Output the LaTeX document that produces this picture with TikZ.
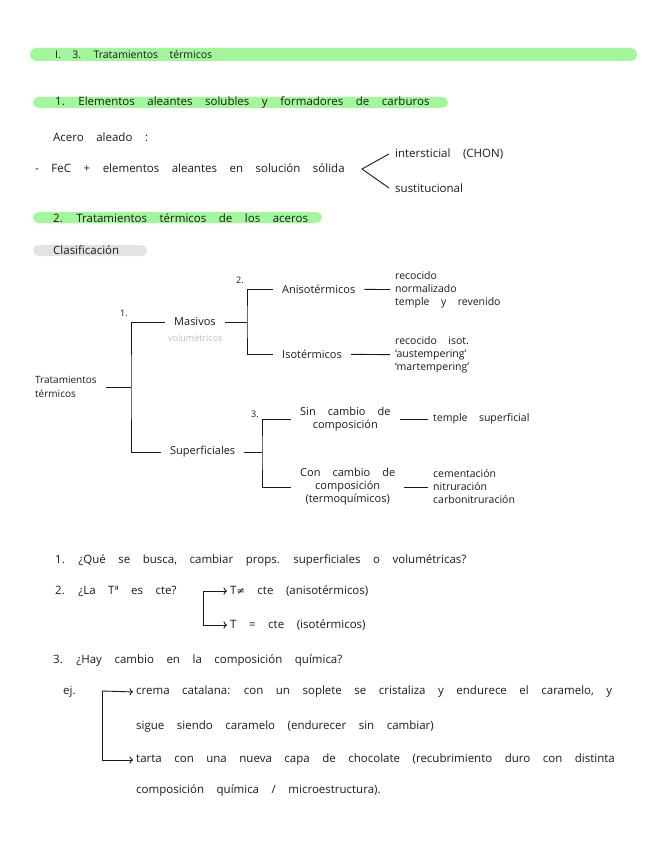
\documentclass[tikz,border=0pt]{standalone}
\usepackage{fontspec}
\setsansfont[WordSpace=4.2]{Open Sans}
\newfontfamily\symfont{DejaVu Sans}
\usetikzlibrary{arrows.meta, positioning}
\definecolor{hl}{HTML}{A3F79B}
\definecolor{hlgray}{HTML}{E3E3E3}
\definecolor{ink}{HTML}{1A1A1A}
\definecolor{soft}{HTML}{BDBDBD}

\begin{document}
\begin{tikzpicture}[x=1pt, y=-1pt, font=\sffamily\fontsize{11.5}{13}\selectfont,
    txt/.style={anchor=west, inner sep=0pt, text=ink},
    tn/.style={anchor=west, inner xsep=9pt, inner ysep=1pt, text=ink, align=center,
      font=\sffamily\fontsize{11}{13}\selectfont},
    lt/.style={anchor=west, inner xsep=5pt, inner ysep=1pt, text=ink, align=left,
      font=\sffamily\fontsize{10.5}{13}\selectfont},
    num/.style={text=ink, inner sep=0pt, font=\sffamily\fontsize{9}{10}\selectfont},
    ln/.style={draw=ink, line width=0.9pt},
    arr/.style={ln, -{To[length=3.5pt]}, shorten >=3pt}]
  \useasboundingbox (0,0) rectangle (656,848);

  \fill[hl, rounded corners=6.5pt] (30,48) rectangle (637,61);
  \fill[hl, rounded corners=5.5pt] (33,97) rectangle (448,108);
  \fill[hl, rounded corners=5.5pt] (33,212) rectangle (322,223);
  \fill[hlgray, rounded corners=5.5pt] (33,245) rectangle (147,256);

  \node[txt, font=\sffamily\fontsize{10.5}{13}\selectfont] (h0) at (55,55) {I. 3. Tratamientos térmicos};
  \node[txt] (h1) at (55,102) {1. Elementos aleantes solubles y formadores de carburos};
  \node[txt] (acero) at (53,137) {Acero aleado :};
  \node[txt] (fec) at (35,168) {- FeC + elementos aleantes en solución sólida};
  \coordinate (fork) at (362,169);
  \node[txt] (inter) at (395,154) {intersticial (CHON)};
  \node[txt] (sust) at (395,188) {sustitucional};
  \draw[ln] ([xshift=-6pt]inter.west) -- (fork) -- ([xshift=-6pt]sust.west);
  \node[txt] (h2) at (53,218) {2. Tratamientos térmicos de los aceros};
  \node[txt] (clas) at (53,250) {Clasificación};

  \node[tn, align=left, font=\sffamily\fontsize{10}{14}\selectfont] (trat) at (26,387) {Tratamientos\\térmicos};
  \coordinate (b1) at (131,387);
  \node[tn] (masivos) at (165,322) {Masivos};
  \node[txt, text=soft, font=\sffamily\fontsize{9}{10}\selectfont] (vol) at (168,338) {volumétricos};
  \node[tn] (superf) at (161,452) {Superficiales};
  \node[num] (n1) at (124,313) {1.};
  \draw[ln] (trat) -- (b1);
  \draw[ln] (masivos.west) -| (b1) |- (superf.west);

  \coordinate (b2) at (247,322);
  \node[tn] (aniso) at (273,289) {Anisotérmicos};
  \node[tn] (iso) at (273,354) {Isotérmicos};
  \node[num] (n2) at (240,280) {2.};
  \draw[ln] (masivos) -- (b2);
  \draw[ln] (aniso.west) -| (b2) |- (iso.west);
  \node[lt] (lanis) at (390,290) {recocido\\normalizado\\temple y revenido};
  \node[lt] (liso) at (390,355) {recocido isot.\\‘austempering’\\‘martempering’};
  \draw[ln] (aniso) -- (lanis);
  \draw[ln] (iso) -- (liso);

  \coordinate (b3) at (262,452);
  \node[tn] (sin) at (291,419) {Sin cambio de\\composición};
  \node[tn] (con) at (291,487) {Con cambio de\\composición\\(termoquímicos)};
  \node[num] (n3) at (255,414) {3.};
  \draw[ln] (superf) -- (b3);
  \draw[ln] (sin.west) -| (b3) |- (con.west);
  \node[lt] (lsin) at (428,419) {temple superficial};
  \node[lt] (lcon) at (428,487) {cementación\\nitruración\\carbonitruración};
  \draw[ln] (sin) -- (lsin);
  \draw[ln] (con) -- (lcon);

  \node[txt] (q1) at (55,560) {1. ¿Qué se busca, cambiar props. superficiales o volumétricas?};
  \node[txt] (q2) at (55,591) {2. ¿La Tª es cte?};
  \coordinate (q2a) at (203,591);
  \node[txt] (tne) at (230,591) {T{\symfont\fontsize{10}{12}\selectfont ≠} cte (anisotérmicos)};
  \node[txt] (teq) at (230,625) {T = cte (isotérmicos)};
  \draw[arr] (q2a) -- (tne.west);
  \draw[arr] (q2a) |- (teq.west);

  \node[txt] (q3) at (53,660) {3. ¿Hay cambio en la composición química?};
  \node[txt] (ej) at (63,692) {ej.};
  \coordinate (eja) at (102,691);
  \node[txt] (crema) at (136,692) {crema catalana: con un soplete se cristaliza y endurece el caramelo, y};
  \node[txt] (sigue) at (136,727) {sigue siendo caramelo (endurecer sin cambiar)};
  \node[txt] (tarta) at (136,760) {tarta con una nueva capa de chocolate (recubrimiento duro con distinta};
  \node[txt] (compo) at (136,790) {composición química / microestructura).};
  \draw[arr] (eja) -- (crema.west);
  \draw[arr] (eja) |- (tarta.west);
\end{tikzpicture}
\end{document}
